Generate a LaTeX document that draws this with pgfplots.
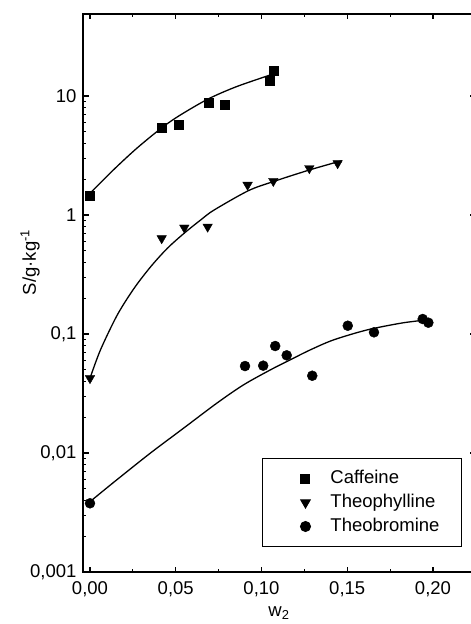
\documentclass[border=0pt]{standalone}
\usepackage{pgfplots}
\pgfplotsset{compat=1.18}
\usepackage{fontspec}
\setmainfont{Liberation Sans}

\begin{document}
\begin{tikzpicture}
  \begin{axis}[
      name=ax,
      scale only axis,
      width=392pt, height=558pt,
      xmin=-0.00408, xmax=0.2245,
      ymode=log, ymin=0.001, ymax=48.9,
      axis line style={line width=1.3pt},
      every tick/.style={line width=1.1pt, black},
      major tick length=5.5pt, minor tick length=3pt,
      xtick={0,0.05,0.1,0.15,0.2},
      minor x tick num=1,
      ytick={0.001,0.01,0.1,1,10},
      yticklabels={{0,001},{0,01},{0,1},{1},{10}},
      xticklabel style={yshift=-6pt, /pgf/number format/.cd, use comma, fixed, fixed zerofill, precision=2},
      yticklabel style={xshift=-3pt},
      /pgf/number format/assume math mode=true,
      tick label style={font=\fontsize{18.5}{21}\selectfont},
      label style={font=\fontsize{18.5}{21}\selectfont},
      xlabel={w\textsubscript{2}},
      ylabel={S/g·kg\textsuperscript{-1}},
      xlabel style={at={(rel axis cs:0.5,0)}, anchor=center, yshift=-41pt},
      ylabel style={at={(rel axis cs:-0.135,0.555)}, anchor=center},
      legend style={at={(1,0)}, anchor=south east, xshift=-13pt, yshift=25pt,
        draw=black, line width=1pt, font=\fontsize{18.5}{21}\selectfont,
        inner xsep=20pt, inner ysep=8.5pt, row sep=1pt,
        nodes={inner xsep=2pt, inner ysep=3pt, text height=13pt, text depth=4pt},
        cells={anchor=west}},
      legend image code/.code={
        \path[draw=none, fill=none] (-23pt,-6pt) rectangle (23pt,6pt);
        \draw[mark repeat=2,mark phase=2] plot coordinates {(-1pt,0pt) (0pt,0pt) (1pt,0pt)};},
    ]

    % fitted curves
    \addplot[smooth, line width=1.3pt, forget plot] coordinates {
      (0.0,1.52) (0.0136,2.39) (0.0272,3.63) (0.0418,5.40) (0.0525,6.90)
      (0.069,9.46) (0.0855,12.0) (0.105,15.0)};
    \addplot[smooth, line width=1.3pt, forget plot] coordinates {
      (0.0,0.0425) (0.0061,0.0735) (0.0159,0.1445) (0.0257,0.242) (0.0354,0.368)
      (0.0451,0.525) (0.0548,0.701) (0.0645,0.908) (0.0723,1.10) (0.0923,1.60)
      (0.1069,1.91) (0.1279,2.39) (0.1468,2.86)};
    \addplot[smooth, line width=1.3pt, forget plot] coordinates {
      (0.0,0.0039) (0.0136,0.00564) (0.035,0.00993) (0.0544,0.0161) (0.0739,0.0262)
      (0.0894,0.0373) (0.105,0.0498) (0.1166,0.0605) (0.1283,0.0734) (0.1419,0.0891)
      (0.1613,0.108) (0.1808,0.123) (0.1924,0.1295)};

    % measured points
    \addplot[only marks, mark=square*, mark size=4.5pt, black] coordinates {
      (0.0,1.45) (0.0418,5.42) (0.0515,5.78) (0.0694,8.85) (0.0787,8.5)
      (0.1046,13.4) (0.1069,16.3)};
    \addlegendentry{Caffeine}
    \addplot[only marks, mark=triangle*, mark size=5.5pt, mark options={rotate=180}, black] coordinates {
      (0.0,0.0425) (0.0418,0.637) (0.055,0.782) (0.0686,0.797) (0.0919,1.79)
      (0.1069,1.93) (0.1279,2.47) (0.1444,2.72)};
    \addlegendentry{Theophylline}
    \addplot[only marks, mark=*, mark size=5pt, black] coordinates {
      (0.0,0.00378) (0.0904,0.0538) (0.101,0.0542) (0.108,0.0793) (0.1147,0.0662)
      (0.1296,0.0446) (0.1503,0.1174) (0.1656,0.1033) (0.194,0.1337) (0.1973,0.1245)};
    \addlegendentry{Theobromine}
  \end{axis}
  \pgfresetboundingbox
  \path ([xshift=-83pt,yshift=-52pt]ax.south west) rectangle ([xshift=-4.5pt,yshift=14pt]ax.north east);
\end{tikzpicture}
\end{document}
